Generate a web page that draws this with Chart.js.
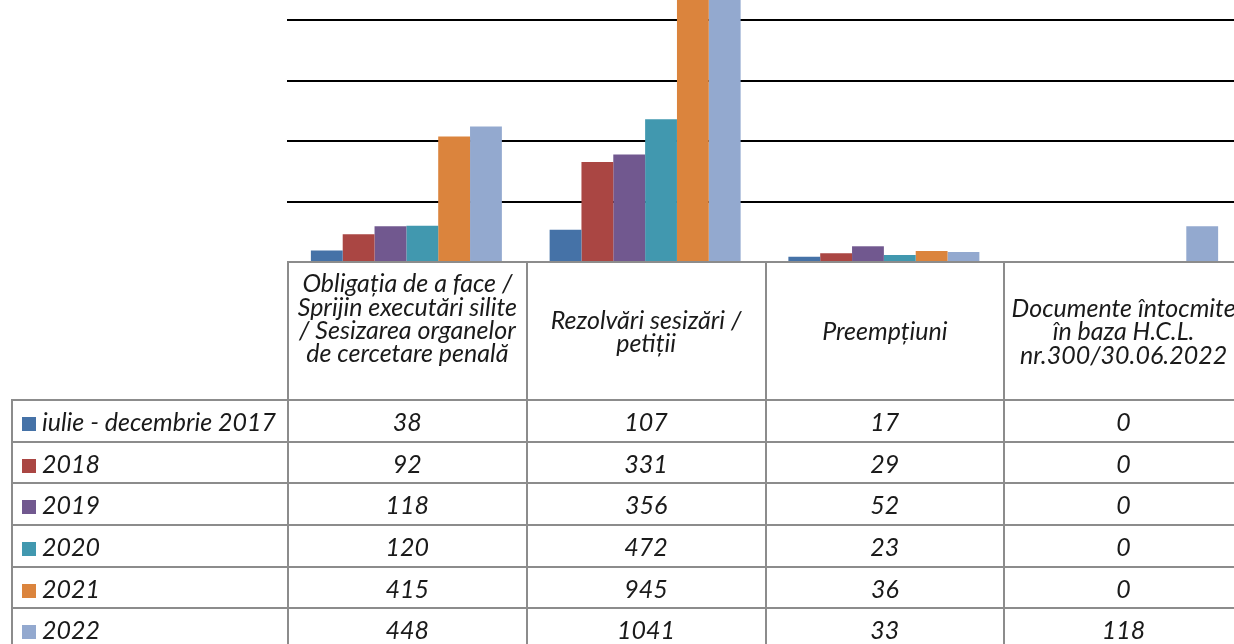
<!DOCTYPE html>
<html>
<head>
<meta charset="utf-8">
<script src="https://cdn.jsdelivr.net/npm/chart.js@4.4.1/dist/chart.umd.min.js"></script>
<style>
html, body { margin: 0; padding: 0; background: #fff; overflow: hidden; width: 1234px; height: 644px; }
#plot { position: absolute; left: 287px; top: 0; width: 955px; height: 262px; }
#tbl { position: absolute; left: 11px; top: 261px; width: 1232px; border-collapse: collapse; table-layout: fixed;
  font-family: Lato, "Open Sans", sans-serif; font-style: italic; font-size: 25px; color: #1a1a1a; }
#tbl td { border: 2px solid #8c8c8c; text-align: center; vertical-align: middle; padding: 0; overflow: visible; white-space: nowrap; }
#tbl td.blank { border: none; }
#tbl tr.head td { height: 136px; line-height: 23.3px; white-space: pre-line; }
#tbl tr.row td { height: 39.7px; }
#tbl td.lab { text-align: left; padding-left: 9px; }
.key { display: inline-block; width: 14px; height: 14px; margin-right: 6px; vertical-align: 0px; }
.lift { display: block; position: relative; top: -13px; }
</style>
</head>
<body>
<div id="plot"><canvas id="myChart"></canvas></div>
<table id="tbl"></table>
<script>
const categories = [
    "Obligația de a face /\nSprijin executări silite\n/ Sesizarea organelor\nde cercetare penală",
    "Rezolvări sesizări /\npetiții",
    "Preempțiuni",
    "Documente întocmite\nîn baza H.C.L.\nnr.300/30.06.2022"
] ;
const seriesNames = ["iulie - decembrie 2017", "2018", "2019", "2020", "2021", "2022"] ;
const v2017 = [38, 107, 17, 0] ;
const v2018 = [92, 331, 29, 0] ;
const v2019 = [118, 356, 52, 0] ;
const v2020 = [120, 472, 23, 0] ;
const v2021 = [415, 945, 36, 0] ;
const v2022 = [448, 1041, 33, 118] ;
const seriesValues = [v2017, v2018, v2019, v2020, v2021, v2022] ;
const colors = ["#4572A7", "#AA4643", "#71588F", "#4198AF", "#DB843D", "#93A9CF"] ;
const gridTicks = [0, 200, 400, 600, 800] ;

// the picture is cut at the top, the visible part ends near 867
const yTop = 867 ;

const ctx = document.getElementById('myChart') ;
const myChart = new Chart(ctx, {
    type: 'bar',
    data: {
        labels: categories,
        datasets: seriesNames.map((name, i) => ({
            label: name,
            data: seriesValues[i],
            backgroundColor: colors[i],
            borderWidth: 0,
            categoryPercentage: 0.8,
            barPercentage: 1.0
        }))
    },
    options: {
        responsive: true,
        maintainAspectRatio: false,
        animation: false,
        layout: { padding: 0 },
        plugins: { legend: { display: false }, tooltip: { enabled: false } },
        scales: {
            x: {
                display: false,
                offset: true,
                afterFit: (s) => { s.height = 0 ; }
            },
            y: {
                min: 0,
                max: yTop,
                afterBuildTicks: (s) => { s.ticks = gridTicks.map(v => ({ value: v })) ; },
                afterFit: (s) => { s.width = 0 ; },
                ticks: { display: false },
                border: { display: false },
                grid: {
                    drawTicks: false,
                    lineWidth: 2,
                    color: (c) => c.tick && c.tick.value === 0 ? '#8c8c8c' : '#000'
                }
            }
        }
    }
}) ;

// data table under the chart
const tbl = document.getElementById('tbl') ;
const colWidths = [276, 238.75, 238.75, 238.75, 238.75] ;
const cg = document.createElement('colgroup') ;
colWidths.forEach(w => {
    const c = document.createElement('col') ;
    c.style.width = w + 'px' ;
    cg.appendChild(c) ;
}) ;
tbl.appendChild(cg) ;

const head = document.createElement('tr') ;
head.className = 'head' ;
const blank = document.createElement('td') ;
blank.className = 'blank' ;
head.appendChild(blank) ;
categories.forEach((c, i) => {
    const td = document.createElement('td') ;
    if(i === 0) {
        // first header has 4 lines and sits a bit higher
        const s = document.createElement('span') ;
        s.className = 'lift' ;
        s.textContent = c ;
        td.appendChild(s) ;
    } else {
        td.textContent = c ;
    }
    head.appendChild(td) ;
}) ;
tbl.appendChild(head) ;

seriesNames.forEach((name, i) => {
    const tr = document.createElement('tr') ;
    tr.className = 'row' ;
    const lab = document.createElement('td') ;
    lab.className = 'lab' ;
    const key = document.createElement('span') ;
    key.className = 'key' ;
    key.style.background = colors[i] ;
    lab.appendChild(key) ;
    lab.appendChild(document.createTextNode(name)) ;
    tr.appendChild(lab) ;
    seriesValues[i].forEach(v => {
        const td = document.createElement('td') ;
        td.textContent = v ;
        tr.appendChild(td) ;
    }) ;
    tbl.appendChild(tr) ;
}) ;
</script>
</body>
</html>
